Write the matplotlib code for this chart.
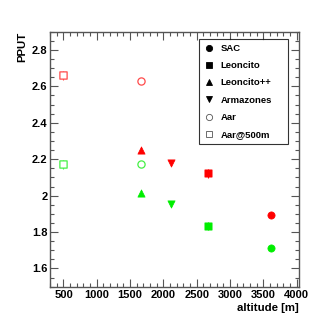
import matplotlib
matplotlib.use("Agg")
import matplotlib.pyplot as plt
from matplotlib.ticker import MultipleLocator, FormatStrFormatter

plt.rcParams['font.family'] = ['Liberation Sans', 'DejaVu Sans']
plt.rcParams['font.weight'] = 'bold'

# site data: name, marker, altitude, PPUT (red / green), errors
sites = ["SAC", "Leoncito", "Leoncito++", "Armazones", "Aar", "Aar@500m"]
markers = ["o", "s", "^", "v", "o", "s"]
filled = [True, True, True, True, False, False]
altitude = [3620, 2670, 1660, 2110, 1660, 500]
pput_red = [1.896, 2.122, 2.252, 2.180, 2.627, 2.660]
pput_green = [1.710, 1.834, 2.012, 1.955, 2.173, 2.173]
err_red = [0.01, 0.025, 0.01, 0.01, 0.01, 0.025]
err_green = [0.01, 0.02, 0.01, 0.01, 0.01, 0.025]

red = "#ff0000"
green = "#00ee00"
light_red = "#ff4a4a"
light_green = "#44f044"
axcol = "#555555"

fig = plt.figure(figsize=(3.32, 3.19), dpi=100)
ax = fig.add_axes([49.5/332, 1-286.7/319, 249.2/332, 255/319])

for i in range(len(sites)):
    for y, e, c, lc in ((pput_red[i], err_red[i], red, light_red),
                        (pput_green[i], err_green[i], green, light_green)):
        ec = c if filled[i] else lc
        ax.errorbar([altitude[i]], [y], yerr=[e], fmt='none', ecolor=ec,
                    elinewidth=0.8, capsize=0, zorder=2)
        ax.scatter([altitude[i]], [y], marker=markers[i], s=27,
                   facecolors=c if filled[i] else 'white', edgecolors=ec,
                   linewidths=0.5 if filled[i] else 0.9, zorder=3,
                   snap=False)

# black proxies for the legend
handles = []
for i in range(len(sites)):
    h, = ax.plot([], [], linestyle='none', marker=markers[i], ms=4.5,
                 mfc='black' if filled[i] else 'white',
                 mec='black' if filled[i] else '#555555', mew=0.6)
    handles.append(h)

ax.set_xlim(290, 4030)
ax.set_ylim(1.5, 2.9)
ax.xaxis.set_major_locator(MultipleLocator(500))
ax.xaxis.set_minor_locator(MultipleLocator(100))
ax.yaxis.set_major_locator(MultipleLocator(0.2))
ax.yaxis.set_minor_locator(MultipleLocator(0.05))
ax.yaxis.set_major_formatter(FormatStrFormatter('%g'))
ax.tick_params(which='both', direction='in', top=True, right=True, colors=axcol,
               labelcolor='black', labelsize=8, width=0.8)
ax.tick_params(which='major', length=5.8)
ax.tick_params(which='minor', length=2.9)
ax.tick_params(axis='y', pad=1.5)
ax.tick_params(axis='x', pad=2.5)
for s in ax.spines.values():
    s.set_color(axcol)
    s.set_linewidth(1.0)

fig.text(22/332, 1-32/319, "PPUT", rotation=90, ha='center', va='top',
         fontsize=8.2, fontweight='bold')
fig.text(298.7/332, 1-308.3/319, "altitude [m]", ha='right', va='center',
         fontsize=8.2, fontweight='bold')

leg = fig.legend(handles, sites, loc='upper left',
                 bbox_to_anchor=(199/332, 1-154.7/319, 88.5/332, 115.4/319),
                 mode='expand', fontsize=6.8, frameon=True, fancybox=False,
                 borderaxespad=0, borderpad=0.5, labelspacing=0.87,
                 handlelength=1.13, handletextpad=0.68)
leg.get_frame().set_edgecolor('black')
leg.get_frame().set_linewidth(0.8)
for t in leg.get_texts():
    t.set_fontweight('bold')

fig.savefig("out.png", dpi=100, facecolor='white')
